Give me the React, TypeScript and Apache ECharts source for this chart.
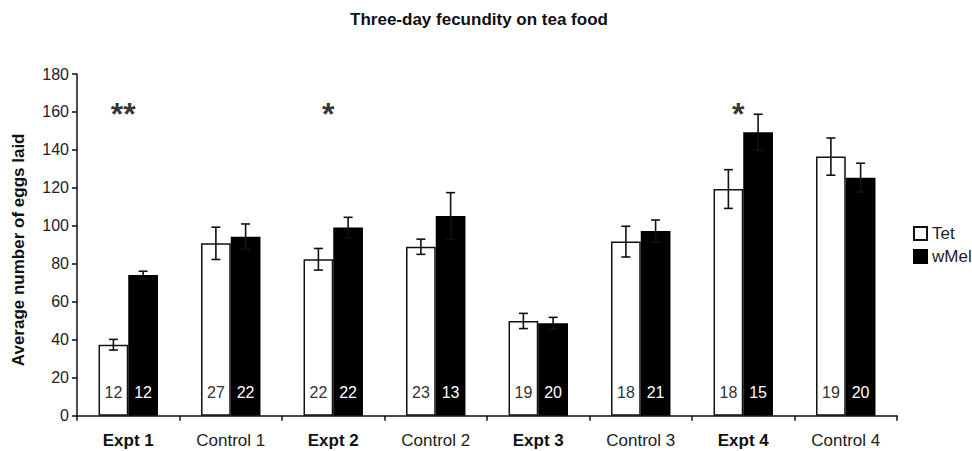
import React, { useEffect, useRef } from "react";
import * as echarts from "echarts";

const categories = ["Expt 1", "Control 1", "Expt 2", "Control 2", "Expt 3", "Control 3", "Expt 4", "Control 4"];
const boldCategories = ["Expt 1", "Expt 2", "Expt 3", "Expt 4"];
const tetMeans = [37.4, 90.8, 82.4, 89.0, 49.9, 91.7, 119.4, 136.5];
const tetErr = [2.8, 8.5, 5.7, 4.0, 4.0, 8.1, 10.2, 9.8];
const wMelMeans = [74.1, 94.3, 99.1, 105.2, 48.7, 97.3, 149.3, 125.4];
const wMelErr = [2.0, 6.7, 5.4, 12.3, 3.1, 5.8, 9.5, 7.6];
const tetN = [12, 27, 22, 23, 19, 18, 18, 19];
const wMelN = [12, 22, 22, 13, 20, 21, 15, 20];
const stars = ["**", "", "*", "", "", "", "*", ""];
const starLevel = 159;
const yTicks = { min: 0, max: 180, interval: 20 };

const FONT = '"Liberation Sans", Arial, Helvetica, sans-serif';

function errorSeries(name: string, means: number[], errs: number[], dir: number) {
  return {
    type: "custom",
    name: name + " err",
    z: 10,
    silent: true,
    data: means.map((m, i) => [i, m, errs[i]]),
    renderItem: (params: any, api: any) => {
      const i = api.value(0);
      const m = api.value(1);
      const e = api.value(2);
      const band = api.size([1, 0])[0];
      const off = dir * band * 0.145;
      const top = api.coord([i, m + e]);
      const bot = api.coord([i, m - e]);
      const x = top[0] + off;
      const cap = 4.5;
      const style = { stroke: "#111", lineWidth: 1.6 };
      return {
        type: "group",
        children: [
          { type: "line", shape: { x1: x, y1: top[1], x2: x, y2: bot[1] }, style },
          { type: "line", shape: { x1: x - cap, y1: top[1], x2: x + cap, y2: top[1] }, style },
          { type: "line", shape: { x1: x - cap, y1: bot[1], x2: x + cap, y2: bot[1] }, style },
        ],
      };
    },
  };
}

export default function App() {
  const ref = useRef<HTMLDivElement>(null);
  useEffect(() => {
    if (!ref.current) return;
    const chart = echarts.init(ref.current, null, { renderer: "svg" });
    const option: any = {
      animation: false,
      textStyle: { fontFamily: FONT },
      graphic: [
        {
          type: "text",
          x: 479,
          y: 19,
          style: {
            text: "Three-day fecundity on tea food",
            font: `bold 17px ${FONT}`,
            fill: "#111",
            textAlign: "center",
            textVerticalAlign: "middle",
          },
        },
      ],
      legend: {
        orient: "vertical",
        left: 913,
        top: 225,
        padding: 0,
        itemWidth: 13,
        itemHeight: 13,
        itemGap: 6,
        itemTextGap: 3,
        icon: "rect",
        data: ["Tet", "wMel"],
        textStyle: { fontSize: 17, color: "#222", fontFamily: FONT },
      },
      grid: { left: 77, right: 75, top: 74, bottom: 35.3, containLabel: false, outerBoundsMode: "none" },
      xAxis: {
        type: "category",
        data: categories,
        axisLine: { show: true, lineStyle: { color: "#111", width: 1.5 } },
        axisTick: { show: true, length: 5, lineStyle: { color: "#111", width: 1.5 } },
        axisLabel: {
          margin: 16,
          interval: 0,
          formatter: (v: string) => (boldCategories.includes(v) ? `{b|${v}}` : `{n|${v}}`),
          rich: {
            b: { fontSize: 17, fontWeight: "bold", color: "#111", fontFamily: FONT },
            n: { fontSize: 17, color: "#222", fontFamily: FONT },
          },
        },
      },
      yAxis: {
        type: "value",
        min: yTicks.min,
        max: yTicks.max,
        interval: yTicks.interval,
        name: "Average number of eggs laid",
        nameLocation: "middle",
        nameGap: 50,
        nameTextStyle: {
          fontSize: 17,
          fontWeight: "bold",
          color: "#111",
          fontFamily: FONT,
          padding: [0, 10, 0, 0],
        },
        axisLine: { show: true, lineStyle: { color: "#111", width: 1.5 } },
        axisTick: { show: true, length: 5, lineStyle: { color: "#111", width: 1.5 } },
        axisLabel: { fontSize: 16, color: "#222", margin: 8, fontFamily: FONT },
        splitLine: { show: false },
      },
      series: [
        {
          type: "bar",
          name: "Tet",
          data: tetMeans,
          barGap: "0%",
          barCategoryGap: "42%",
          itemStyle: { color: "#ffffff", borderColor: "#111", borderWidth: 1.5 },
          label: {
            show: true,
            position: "insideBottom",
            distance: 15.5,
            fontSize: 16,
            color: "#333",
            fontFamily: FONT,
            formatter: (p: any) => String(tetN[p.dataIndex]),
          },
        },
        {
          type: "bar",
          name: "wMel",
          data: wMelMeans,
          barGap: "0%",
          barCategoryGap: "42%",
          itemStyle: { color: "#000000", borderColor: "#000", borderWidth: 1.5 },
          label: {
            show: true,
            position: "insideBottom",
            distance: 15.5,
            fontSize: 16,
            color: "#ffffff",
            fontFamily: FONT,
            formatter: (p: any) => String(wMelN[p.dataIndex]),
          },
        },
        errorSeries("Tet", tetMeans, tetErr, -1),
        errorSeries("wMel", wMelMeans, wMelErr, 1),
        {
          type: "scatter",
          name: "stars",
          symbolSize: 0,
          silent: true,
          z: 11,
          data: stars.map((s, i) => (s ? [i, starLevel, s] : null)).filter((d) => d !== null),
          label: {
            show: true,
            position: "inside",
            offset: [-5, 0],
            fontSize: 32,
            fontWeight: "bold",
            color: "#000",
            fontFamily: FONT,
            formatter: (p: any) => p.data[2],
          },
        },
      ],
    };
    chart.setOption(option);
    return () => chart.dispose();
  }, []);
  return (
    <div
      ref={ref}
      style={{ position: "fixed", left: 0, top: 0, width: 972, height: 451, background: "#fff" }}
    />
  );
}
